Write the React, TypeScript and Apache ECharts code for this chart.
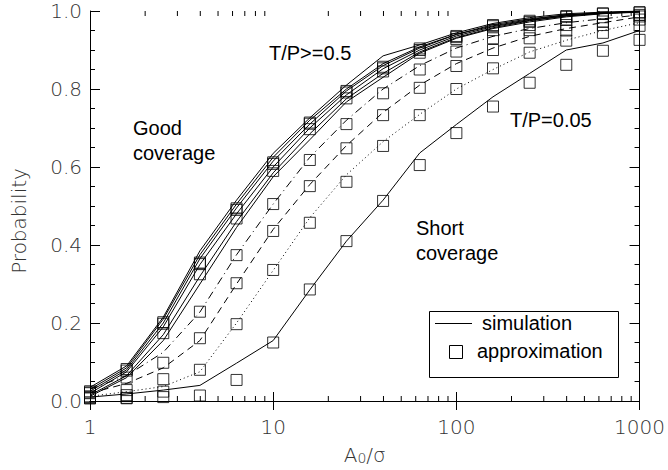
import React, { useEffect, useRef } from "react";
import * as echarts from "echarts";

// x positions (A0/sigma), 5 samples per decade
const xValues = [1, 1.585, 2.512, 3.981, 6.31, 10, 15.85, 25.12, 39.81, 63.1, 100, 158.5, 251.2, 398.1, 631, 1000];

// simulation curves (lines)
const simTP005 = [0.01, 0.018, 0.028, 0.04, 0.097, 0.155, 0.285, 0.41, 0.515, 0.636, 0.709, 0.78, 0.84, 0.9, 0.918, 0.95];
const simTP01 = [0.012, 0.024, 0.037, 0.075, 0.2, 0.335, 0.47, 0.58, 0.665, 0.735, 0.8, 0.85, 0.895, 0.925, 0.95, 0.97];
const simTP02 = [0.02, 0.045, 0.085, 0.155, 0.3, 0.44, 0.555, 0.655, 0.74, 0.81, 0.865, 0.905, 0.935, 0.955, 0.97, 0.985];
const simTP03 = [0.03, 0.065, 0.125, 0.228, 0.375, 0.505, 0.625, 0.72, 0.8, 0.86, 0.905, 0.935, 0.955, 0.97, 0.98, 0.99];
const simTP04 = [0.012, 0.06, 0.155, 0.3, 0.445, 0.575, 0.67, 0.767, 0.83, 0.892, 0.93, 0.955, 0.972, 0.985, 0.993, 0.997];
const simTP05 = [0.015, 0.065, 0.17, 0.32, 0.46, 0.585, 0.685, 0.775, 0.84, 0.895, 0.932, 0.957, 0.975, 0.987, 0.994, 0.998];
const simTP06 = [0.02, 0.075, 0.19, 0.35, 0.48, 0.6, 0.7, 0.785, 0.852, 0.9, 0.936, 0.96, 0.976, 0.988, 0.994, 0.998];
const simTP07 = [0.025, 0.08, 0.2, 0.365, 0.495, 0.615, 0.71, 0.795, 0.86, 0.905, 0.94, 0.962, 0.978, 0.99, 0.995, 0.999];
const simTP08 = [0.03, 0.085, 0.21, 0.375, 0.505, 0.625, 0.72, 0.8, 0.865, 0.908, 0.94, 0.965, 0.98, 0.99, 0.996, 0.999];
const simTP10 = [0.035, 0.09, 0.215, 0.385, 0.515, 0.635, 0.726, 0.81, 0.885, 0.913, 0.944, 0.968, 0.983, 0.993, 0.997, 1.0];

// approximation (squares)
const apxTP005 = [0.007, 0.007, 0.01, 0.014, 0.054, 0.15, 0.286, 0.41, 0.513, 0.605, 0.687, 0.755, 0.816, 0.862, 0.898, 0.926];
const apxTP01 = [0.007, 0.008, 0.024, 0.08, 0.197, 0.336, 0.457, 0.562, 0.654, 0.733, 0.8, 0.853, 0.893, 0.924, 0.944, 0.962];
const apxTP02 = [0.01, 0.015, 0.056, 0.161, 0.302, 0.436, 0.551, 0.648, 0.733, 0.803, 0.859, 0.9, 0.93, 0.95, 0.964, 0.978];
const apxTP03 = [0.012, 0.028, 0.098, 0.229, 0.374, 0.505, 0.618, 0.71, 0.789, 0.85, 0.896, 0.93, 0.951, 0.964, 0.973, 0.986];
const apxTP04 = [0.02, 0.06, 0.174, 0.325, 0.468, 0.59, 0.697, 0.776, 0.845, 0.893, 0.928, 0.951, 0.964, 0.977, 0.984, 0.99];
const apxTP05 = [0.022, 0.078, 0.198, 0.351, 0.49, 0.608, 0.711, 0.791, 0.853, 0.9, 0.933, 0.961, 0.972, 0.985, 0.993, 0.996];
const apxTP10 = [0.025, 0.082, 0.202, 0.355, 0.494, 0.612, 0.714, 0.795, 0.857, 0.904, 0.936, 0.964, 0.975, 0.987, 0.994, 0.997];

// axis ticks
const xMajorTicks = [1, 10, 100, 1000];
const xMinorTicks = [2, 3, 4, 5, 6, 7, 8, 9, 20, 30, 40, 50, 60, 70, 80, 90, 200, 300, 400, 500, 600, 700, 800, 900];

const labelFont = "DejaVu Sans";
const textFont = "Liberation Sans";

const pairs = (ys: number[]) => xValues.map((x, i) => [x, ys[i]]);

const simSeries: { data: number[]; dash: any }[] = [
  { data: simTP005, dash: "solid" },
  { data: simTP01, dash: [1, 3] },
  { data: simTP02, dash: [7, 5] },
  { data: simTP03, dash: [8, 4, 1, 4] },
  { data: simTP04, dash: "solid" },
  { data: simTP05, dash: "solid" },
  { data: simTP06, dash: "solid" },
  { data: simTP07, dash: "solid" },
  { data: simTP08, dash: "solid" },
  { data: simTP10, dash: "solid" },
];
const apxSeries = [apxTP005, apxTP01, apxTP02, apxTP03, apxTP04, apxTP05, apxTP10];

export default function App() {
  const ref = useRef<HTMLDivElement>(null);
  useEffect(() => {
    document.body.style.margin = "0";
    const chart = echarts.init(ref.current!, null, { renderer: "svg" });
    const axisLabel = { fontFamily: labelFont, fontSize: 20, fontWeight: 200 as any, color: "#333" };
    const series: any[] = [];
    simSeries.forEach((s, i) => {
      series.push({
        type: "line",
        name: "sim" + i,
        data: pairs(s.data),
        showSymbol: false,
        symbol: "none",
        lineStyle: { color: "#000", width: 1, type: s.dash, cap: "butt" },
        silent: true,
        z: 2,
      });
    });
    apxSeries.forEach((a, i) => {
      series.push({
        type: "scatter",
        name: "apx" + i,
        data: pairs(a),
        symbol: "rect",
        symbolSize: 11,
        itemStyle: { color: "rgba(0,0,0,0)", borderColor: "#000", borderWidth: 1 },
        silent: true,
        z: 3,
      });
    });
    series.push({
      type: "custom",
      name: "minorTicks",
      data: xMinorTicks.map((v) => [v, 0]),
      silent: true,
      z: 4,
      renderItem: (_p: any, api: any) => {
        const x = api.value(0);
        const b = api.coord([x, 0]);
        const t = api.coord([x, 1]);
        return {
          type: "group",
          children: [
            { type: "line", shape: { x1: b[0], y1: b[1], x2: b[0], y2: b[1] - 5 }, style: { stroke: "#000", lineWidth: 1 } },
            { type: "line", shape: { x1: t[0], y1: t[1], x2: t[0], y2: t[1] + 5 }, style: { stroke: "#000", lineWidth: 1 } },
          ],
        };
      },
    });

    chart.setOption({
      animation: false,
      backgroundColor: "#fff",
      grid: { left: 90, right: 28, top: 11, bottom: 69, containLabel: false },
      xAxis: [
        {
          type: "log",
          logBase: 10,
          min: xMajorTicks[0],
          max: xMajorTicks[xMajorTicks.length - 1],
          position: "bottom",
          axisLine: { lineStyle: { color: "#000", width: 1 } },
          axisTick: { inside: true, length: 9, lineStyle: { color: "#000" } },
          axisLabel: { ...axisLabel, margin: 16, formatter: (v: number) => String(Math.round(v)) },
          splitLine: { show: false },
          name: "A{s|0}/σ",
          nameLocation: "middle",
          nameGap: 44,
          nameTextStyle: {
            fontFamily: labelFont,
            fontSize: 20,
            fontWeight: 200 as any,
            color: "#333",
            padding: [0, 0, 6, 0],
            rich: { s: { fontFamily: labelFont, fontSize: 14, fontWeight: 200 as any, color: "#333", verticalAlign: "bottom" } },
          },
        },
        {
          type: "log",
          logBase: 10,
          min: xMajorTicks[0],
          max: xMajorTicks[xMajorTicks.length - 1],
          position: "top",
          axisLine: { lineStyle: { color: "#000", width: 1 } },
          axisTick: { inside: true, length: 9, lineStyle: { color: "#000" } },
          axisLabel: { show: false },
          splitLine: { show: false },
        },
      ],
      yAxis: [
        {
          type: "value",
          min: 0,
          max: 1,
          interval: 0.2,
          position: "left",
          axisLine: { show: true, lineStyle: { color: "#000", width: 1 } },
          axisTick: { show: true, inside: true, length: 10, lineStyle: { color: "#000" } },
          minorTick: { show: true, splitNumber: 4, length: 5, lineStyle: { color: "#000" } },
          axisLabel: { ...axisLabel, margin: 8, formatter: (v: number) => v.toFixed(1) },
          splitLine: { show: false },
        },
        {
          type: "value",
          min: 0,
          max: 1,
          interval: 0.2,
          position: "right",
          axisLine: { show: true, lineStyle: { color: "#000", width: 1 } },
          axisTick: { show: true, inside: true, length: 10, lineStyle: { color: "#000" } },
          minorTick: { show: true, splitNumber: 4, length: 5, lineStyle: { color: "#000" } },
          axisLabel: { show: false },
          splitLine: { show: false },
        },
      ],
      series,
      graphic: [
        {
          type: "text",
          x: 19,
          y: 221,
          rotation: Math.PI / 2,
          style: { text: "Probability", fontFamily: labelFont, fontSize: 20, fontWeight: 200, fill: "#333", align: "center", verticalAlign: "middle" },
        },
        { type: "text", x: 133, y: 128, style: { text: "Good", fontFamily: textFont, fontSize: 20, fill: "#000", align: "left", verticalAlign: "middle" } },
        { type: "text", x: 133, y: 153, style: { text: "coverage", fontFamily: textFont, fontSize: 20, fill: "#000", align: "left", verticalAlign: "middle" } },
        { type: "text", x: 269, y: 53, style: { text: "T/P>=0.5", fontFamily: textFont, fontSize: 20, fill: "#000", align: "left", verticalAlign: "middle" } },
        { type: "text", x: 510, y: 120, style: { text: "T/P=0.05", fontFamily: textFont, fontSize: 20, fill: "#000", align: "left", verticalAlign: "middle" } },
        { type: "text", x: 416, y: 228, style: { text: "Short", fontFamily: textFont, fontSize: 20, fill: "#000", align: "left", verticalAlign: "middle" } },
        { type: "text", x: 416, y: 253, style: { text: "coverage", fontFamily: textFont, fontSize: 20, fill: "#000", align: "left", verticalAlign: "middle" } },
        { type: "rect", shape: { x: 429.5, y: 311.5, width: 189, height: 66 }, style: { fill: "#fff", stroke: "#000", lineWidth: 1 }, z: 10 },
        { type: "line", shape: { x1: 435, y1: 323.5, x2: 472, y2: 323.5 }, style: { stroke: "#000", lineWidth: 1 }, z: 11 },
        { type: "text", x: 482, y: 323, z: 11, style: { text: "simulation", fontFamily: textFont, fontSize: 20, fill: "#000", align: "left", verticalAlign: "middle" } },
        { type: "rect", shape: { x: 449.5, y: 345.5, width: 13, height: 13 }, style: { fill: "none", stroke: "#000", lineWidth: 1 }, z: 11 },
        { type: "text", x: 477, y: 351, z: 11, style: { text: "approximation", fontFamily: textFont, fontSize: 20, fill: "#000", align: "left", verticalAlign: "middle" } },
      ],
    });
    return () => chart.dispose();
  }, []);
  return <div ref={ref} style={{ position: "fixed", left: 0, top: 0, width: 668, height: 470, background: "#fff" }} />;
}
